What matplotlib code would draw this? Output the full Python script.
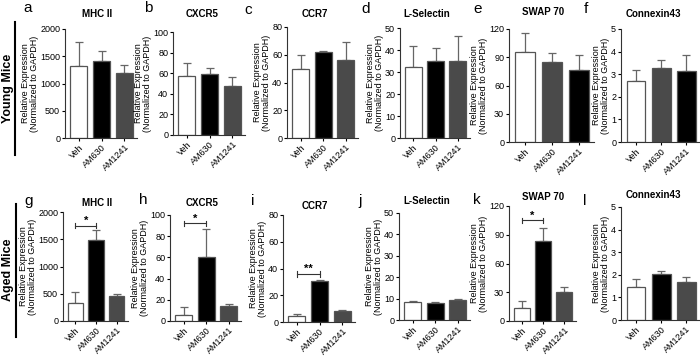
import matplotlib
matplotlib.use('Agg')
import matplotlib.pyplot as plt

plt.rcParams['font.family'] = ['Liberation Sans', 'DejaVu Sans']

groups = ['Veh', 'AM630', 'AM1241']

titles = ['MHC II', 'CXCR5', 'CCR7', 'L-Selectin', 'SWAP 70', 'Connexin43']
letters_young = ['a', 'b', 'c', 'd', 'e', 'f']
letters_aged = ['g', 'h', 'i', 'j', 'k', 'l']
ymax = [2000, 100, 80, 50, 120, 5]
ystep = [500, 20, 20, 10, 30, 1]

# young mice: means and SEM
young_mean = [
    [1330, 1410, 1190],
    [57, 59, 48],
    [50, 62, 56],
    [32.5, 35, 34.8],
    [96, 85, 76],
    [2.68, 3.27, 3.12],
]
young_err = [
    [440, 190, 150],
    [13, 6, 8],
    [10, 0.5, 13],
    [9.5, 6, 11.5],
    [20, 9.5, 16],
    [0.52, 0.38, 0.72],
]
# aged mice
aged_mean = [
    [330, 1480, 460],
    [6, 60, 14],
    [4.5, 30.5, 8],
    [8.2, 8.0, 9.3],
    [14, 84, 30],
    [1.48, 2.02, 1.67],
]
aged_err = [
    [210, 190, 40],
    [7.5, 27, 2.5],
    [1.5, 1, 1],
    [0.8, 0.5, 0.7],
    [7, 13, 6],
    [0.35, 0.17, 0.25],
]
# significance: (panel index, bracket height, label)
aged_sig = {0: (1750, '*'), 1: (92, '*'), 2: (36, '**'), 4: (105, '*')}

WHITE, BLACK, GREY = 'white', 'black', '#4a4a4a'
young_colors = [[WHITE, BLACK, GREY]] * 4 + [[WHITE, GREY, BLACK]] * 2
aged_colors = [[WHITE, BLACK, GREY]] * 6

W, H = 700, 358
# pixel boxes: x0, x1, ytop, ybottom
young_boxes = [(65, 137, 29, 138), (173, 245, 32, 135), (287, 358, 27, 138),
               (400, 470, 28, 138), (509, 594, 29, 142), (621, 700, 29, 142)]
aged_boxes = [(63, 128, 212, 321), (170, 241, 215, 321), (283, 355, 215, 322),
              (399, 470, 213, 320), (509, 576, 206, 321), (621, 700, 207, 320)]
young_letter_pos = [(28, 8), (148, 8), (248, 10), (366, 9), (478, 9), (586, 9)]
aged_letter_pos = [(29, 201), (143, 200), (253, 201), (360, 201), (477, 200), (585, 201)]
young_title_pos = [(97, 14), (202, 14), (315, 14), (427, 14), (543, 12), (653, 14)]
aged_title_pos = [(97, 203), (202, 203), (315, 206), (427, 201), (543, 197), (653, 195)]

fig = plt.figure(figsize=(7, 3.58), dpi=100)


def fx(x):
    return x / W


def fy(y):
    return 1 - y / H


def draw_panel(box, means, errs, colors, top, step, sig=None):
    x0, x1, yt, yb = box
    ax = fig.add_axes([fx(x0), fy(yb), fx(x1 - x0), (yb - yt) / H])
    pos = range(len(groups))
    ax.bar(pos, means, width=0.75, color=colors, edgecolor='#555555',
           linewidth=0.9, zorder=2)
    ax.errorbar(pos, means, yerr=[[0] * 3, errs], fmt='none', ecolor='#666666',
                elinewidth=0.9, capsize=3, capthick=0.9, zorder=1)
    ax.set_xlim(-0.6, 2.55)
    ax.set_ylim(0, top)
    ax.set_yticks([step * i for i in range(int(round(top / step)) + 1)])
    ax.set_xticks(list(pos))
    ax.set_xticklabels(groups, rotation=45, ha='right', rotation_mode='anchor',
                       fontsize=6.5)
    ax.tick_params(axis='y', labelsize=6.5, length=2.5, width=0.8, pad=1)
    ax.tick_params(axis='x', length=2.5, width=0.8, pad=1)
    for s in ['top', 'right']:
        ax.spines[s].set_visible(False)
    for s in ['left', 'bottom']:
        ax.spines[s].set_linewidth(0.8)
        ax.spines[s].set_color('#333333')
    ax.set_ylabel('Relative Expression\n(Normalized to GAPDH)', fontsize=6.5,
                  labelpad=1, linespacing=0.9)
    if sig is not None:
        h, label = sig
        tick = top * 0.025
        ax.plot([0, 1], [h, h], color='#333333', lw=0.8)
        ax.plot([0, 0], [h - tick, h + tick], color='#333333', lw=0.8)
        ax.plot([1, 1], [h - tick, h + tick], color='#333333', lw=0.8)
        ax.text(0.5, h, label, ha='center', va='bottom', fontsize=8,
                fontweight='bold')
    return ax


for i in range(6):
    draw_panel(young_boxes[i], young_mean[i], young_err[i], young_colors[i],
               ymax[i], ystep[i])
    draw_panel(aged_boxes[i], aged_mean[i], aged_err[i], aged_colors[i],
               ymax[i], ystep[i], aged_sig.get(i))
    fig.text(fx(young_letter_pos[i][0]), fy(young_letter_pos[i][1]),
             letters_young[i], fontsize=11, ha='center', va='center')
    fig.text(fx(aged_letter_pos[i][0]), fy(aged_letter_pos[i][1]),
             letters_aged[i], fontsize=11, ha='center', va='center')
    fig.text(fx(young_title_pos[i][0]), fy(young_title_pos[i][1]), titles[i],
             fontsize=7, fontweight='bold', ha='center', va='center')
    fig.text(fx(aged_title_pos[i][0]), fy(aged_title_pos[i][1]), titles[i],
             fontsize=7, fontweight='bold', ha='center', va='center')

# row labels with vertical rules
fig.text(fx(8), fy(88), 'Young Mice', rotation=90, fontsize=9,
         fontweight='bold', ha='center', va='center')
fig.text(fx(8), fy(270), 'Aged Mice', rotation=90, fontsize=9,
         fontweight='bold', ha='center', va='center')
fig.add_artist(plt.Line2D([fx(15), fx(15)], [fy(22), fy(155)], color='black',
                          lw=1.5))
fig.add_artist(plt.Line2D([fx(16), fx(16)], [fy(204), fy(337)], color='black',
                          lw=1.5))

fig.savefig('out.png', dpi=100)
